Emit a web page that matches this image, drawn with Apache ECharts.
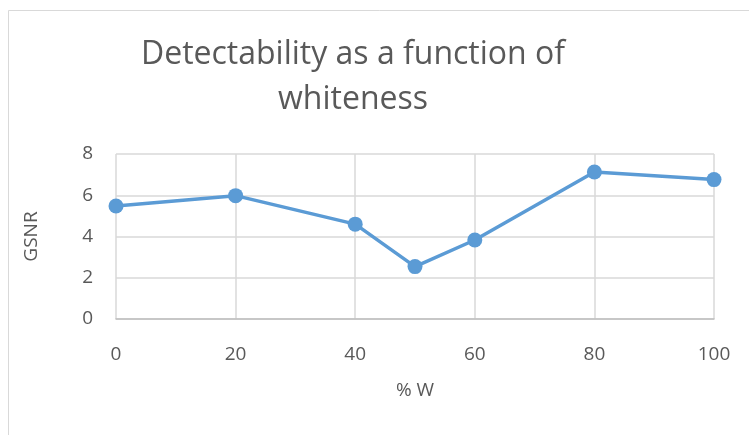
<!DOCTYPE html>
<html>
<head>
<meta charset="utf-8">
<script src="https://cdn.jsdelivr.net/npm/echarts@6/dist/echarts.min.js"></script>
<style>
  html, body { margin: 0; padding: 0; background: #fff; }
  #chart { width: 749px; height: 435px; }
</style>
</head>
<body>
<div id="chart"></div>
<script>
// whiteness (%) vs GSNR
const whiteness = [0, 20, 40, 50, 60, 80, 100]
const gsnr = [5.48, 5.98, 4.6, 2.54, 3.83, 7.13, 6.76]

const chart = echarts.init(document.getElementById('chart'))

const textColor = '#595959'
const fontFamily = '"Open Sans", "Noto Sans", sans-serif'

const option = {
  animation: false,
  backgroundColor: '#fff',
  // chart area border (cropped on right and bottom)
  graphic: [
    {
      type: 'rect',
      shape: { x: 8.5, y: 10.5, width: 900, height: 600 },
      style: { fill: 'none', stroke: '#D9D9D9', lineWidth: 1 },
      silent: true
    }
  ],
  title: {
    text: 'Detectability as a function of\nwhiteness',
    left: 348,
    top: 27,
    textAlign: 'center',
    textStyle: {
      color: textColor,
      fontFamily: fontFamily,
      fontSize: 32,
      fontWeight: 'normal',
      lineHeight: 45
    }
  },
  grid: {
    left: 116,
    top: 154,
    width: 598,
    height: 165
  },
  xAxis: {
    type: 'value',
    min: 0,
    max: 100,
    interval: 20,
    name: '% W',
    nameLocation: 'middle',
    nameGap: 62,
    nameTextStyle: { color: textColor, fontFamily: fontFamily, fontSize: 19 },
    axisLine: { show: true, lineStyle: { color: '#BFBFBF', width: 1.5 } },
    axisTick: { show: false },
    axisLabel: { color: textColor, fontFamily: fontFamily, fontSize: 19, margin: 26 },
    splitLine: { show: true, lineStyle: { color: '#D9D9D9', width: 1.5 } }
  },
  yAxis: {
    type: 'value',
    min: 0,
    max: 8,
    interval: 2,
    name: 'GSNR',
    nameLocation: 'middle',
    nameGap: 75,
    nameTextStyle: { color: textColor, fontFamily: fontFamily, fontSize: 19 },
    axisLine: { show: false },
    axisTick: { show: false },
    axisLabel: { color: textColor, fontFamily: fontFamily, fontSize: 19, margin: 23 },
    splitLine: { show: true, lineStyle: { color: '#D9D9D9', width: 1.5 } }
  },
  series: [
    {
      type: 'line',
      data: whiteness.map((w, i) => [w, gsnr[i]]),
      symbol: 'circle',
      symbolSize: 15,
      lineStyle: { color: '#5B9BD5', width: 3.5 },
      itemStyle: { color: '#5B9BD5' }
    }
  ]
}

chart.setOption(option)
</script>
</body>
</html>
